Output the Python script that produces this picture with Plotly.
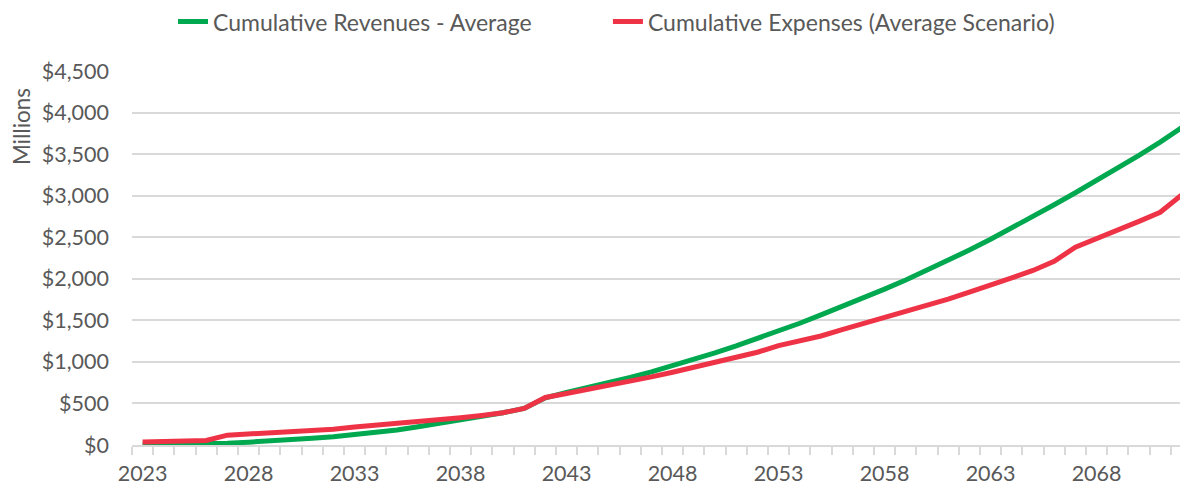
import plotly.graph_objects as go

years = list(range(2023, 2073))

revenues = [
    2, 5, 8, 12, 22, 34, 46, 60, 80, 100,
    124, 152, 180, 220, 260, 300, 344, 388, 440, 568,
    632, 688, 748, 812, 880, 952, 1028, 1108, 1192, 1280,
    1368, 1465, 1565, 1665, 1770, 1875, 1985, 2100, 2220, 2345,
    2475, 2610, 2750, 2890, 3035, 3180, 3330, 3485, 3645, 3815,
]

expenses = [
    35, 42, 46, 54, 118, 130, 142, 153, 172, 190,
    216, 236, 260, 280, 304, 328, 356, 388, 440, 572,
    620, 668, 720, 768, 820, 876, 936, 996, 1056, 1116,
    1196, 1252, 1312, 1388, 1460, 1528, 1600, 1680, 1755, 1840,
    1920, 2010, 2100, 2210, 2380, 2480, 2580, 2690, 2800, 3005,
]

y_ticks = list(range(0, 4501, 500))
y_labels = [f"${v:,}" for v in y_ticks]
x_ticks = list(range(2023, 2073, 5))

grey = "#595959"
grid = "#d9d9d9"

fig = go.Figure()
fig.add_trace(go.Scatter(
    x=years, y=revenues, mode="lines",
    name="Cumulative Revenues - Average",
    line=dict(color="#00a84f", width=5),
    legend="legend",
))
fig.add_trace(go.Scatter(
    x=years, y=expenses, mode="lines",
    name="Cumulative Expenses (Average Scenario)",
    line=dict(color="#ef3347", width=5),
    legend="legend2",
))

# the page body adds an 8px offset, so margins are shifted up/left by 8
legend_style = dict(
    orientation="h", xref="container", xanchor="left",
    y=1.132, yanchor="middle", font=dict(size=23, color=grey),
)
fig.update_layout(
    width=1188, height=493,
    margin=dict(l=124, r=0, t=63, b=56, autoexpand=False),
    paper_bgcolor="white", plot_bgcolor="white",
    font=dict(family="Lato", size=21.5, color=grey),
    showlegend=True,
    legend=dict(x=0.1389, **legend_style),
    legend2=dict(x=0.505, **legend_style),
)
fig.update_xaxes(
    range=[2022.5, 2072.69],
    tickmode="array", tickvals=x_ticks, ticks="", ticklabelstandoff=8,
    showgrid=False, zeroline=False,
    showline=True, linecolor=grid, linewidth=2,
    minor=dict(tickmode="linear", tick0=2022.5, dtick=1, ticks="outside",
               ticklen=8, tickcolor=grid, tickwidth=2, showgrid=False),
)
fig.update_yaxes(
    range=[0, 4500],
    tickmode="array", tickvals=y_ticks, ticktext=y_labels,
    showgrid=True, gridcolor=grid, gridwidth=1.5,
    zeroline=False, ticklabelstandoff=22,
)
fig.add_annotation(
    text="Millions", textangle=-90, showarrow=False,
    xref="paper", yref="paper", x=0, xshift=-111, y=0.85,
    xanchor="center", yanchor="middle",
    font=dict(size=22.5, color=grey),
)

fig.write_html("out.html")
